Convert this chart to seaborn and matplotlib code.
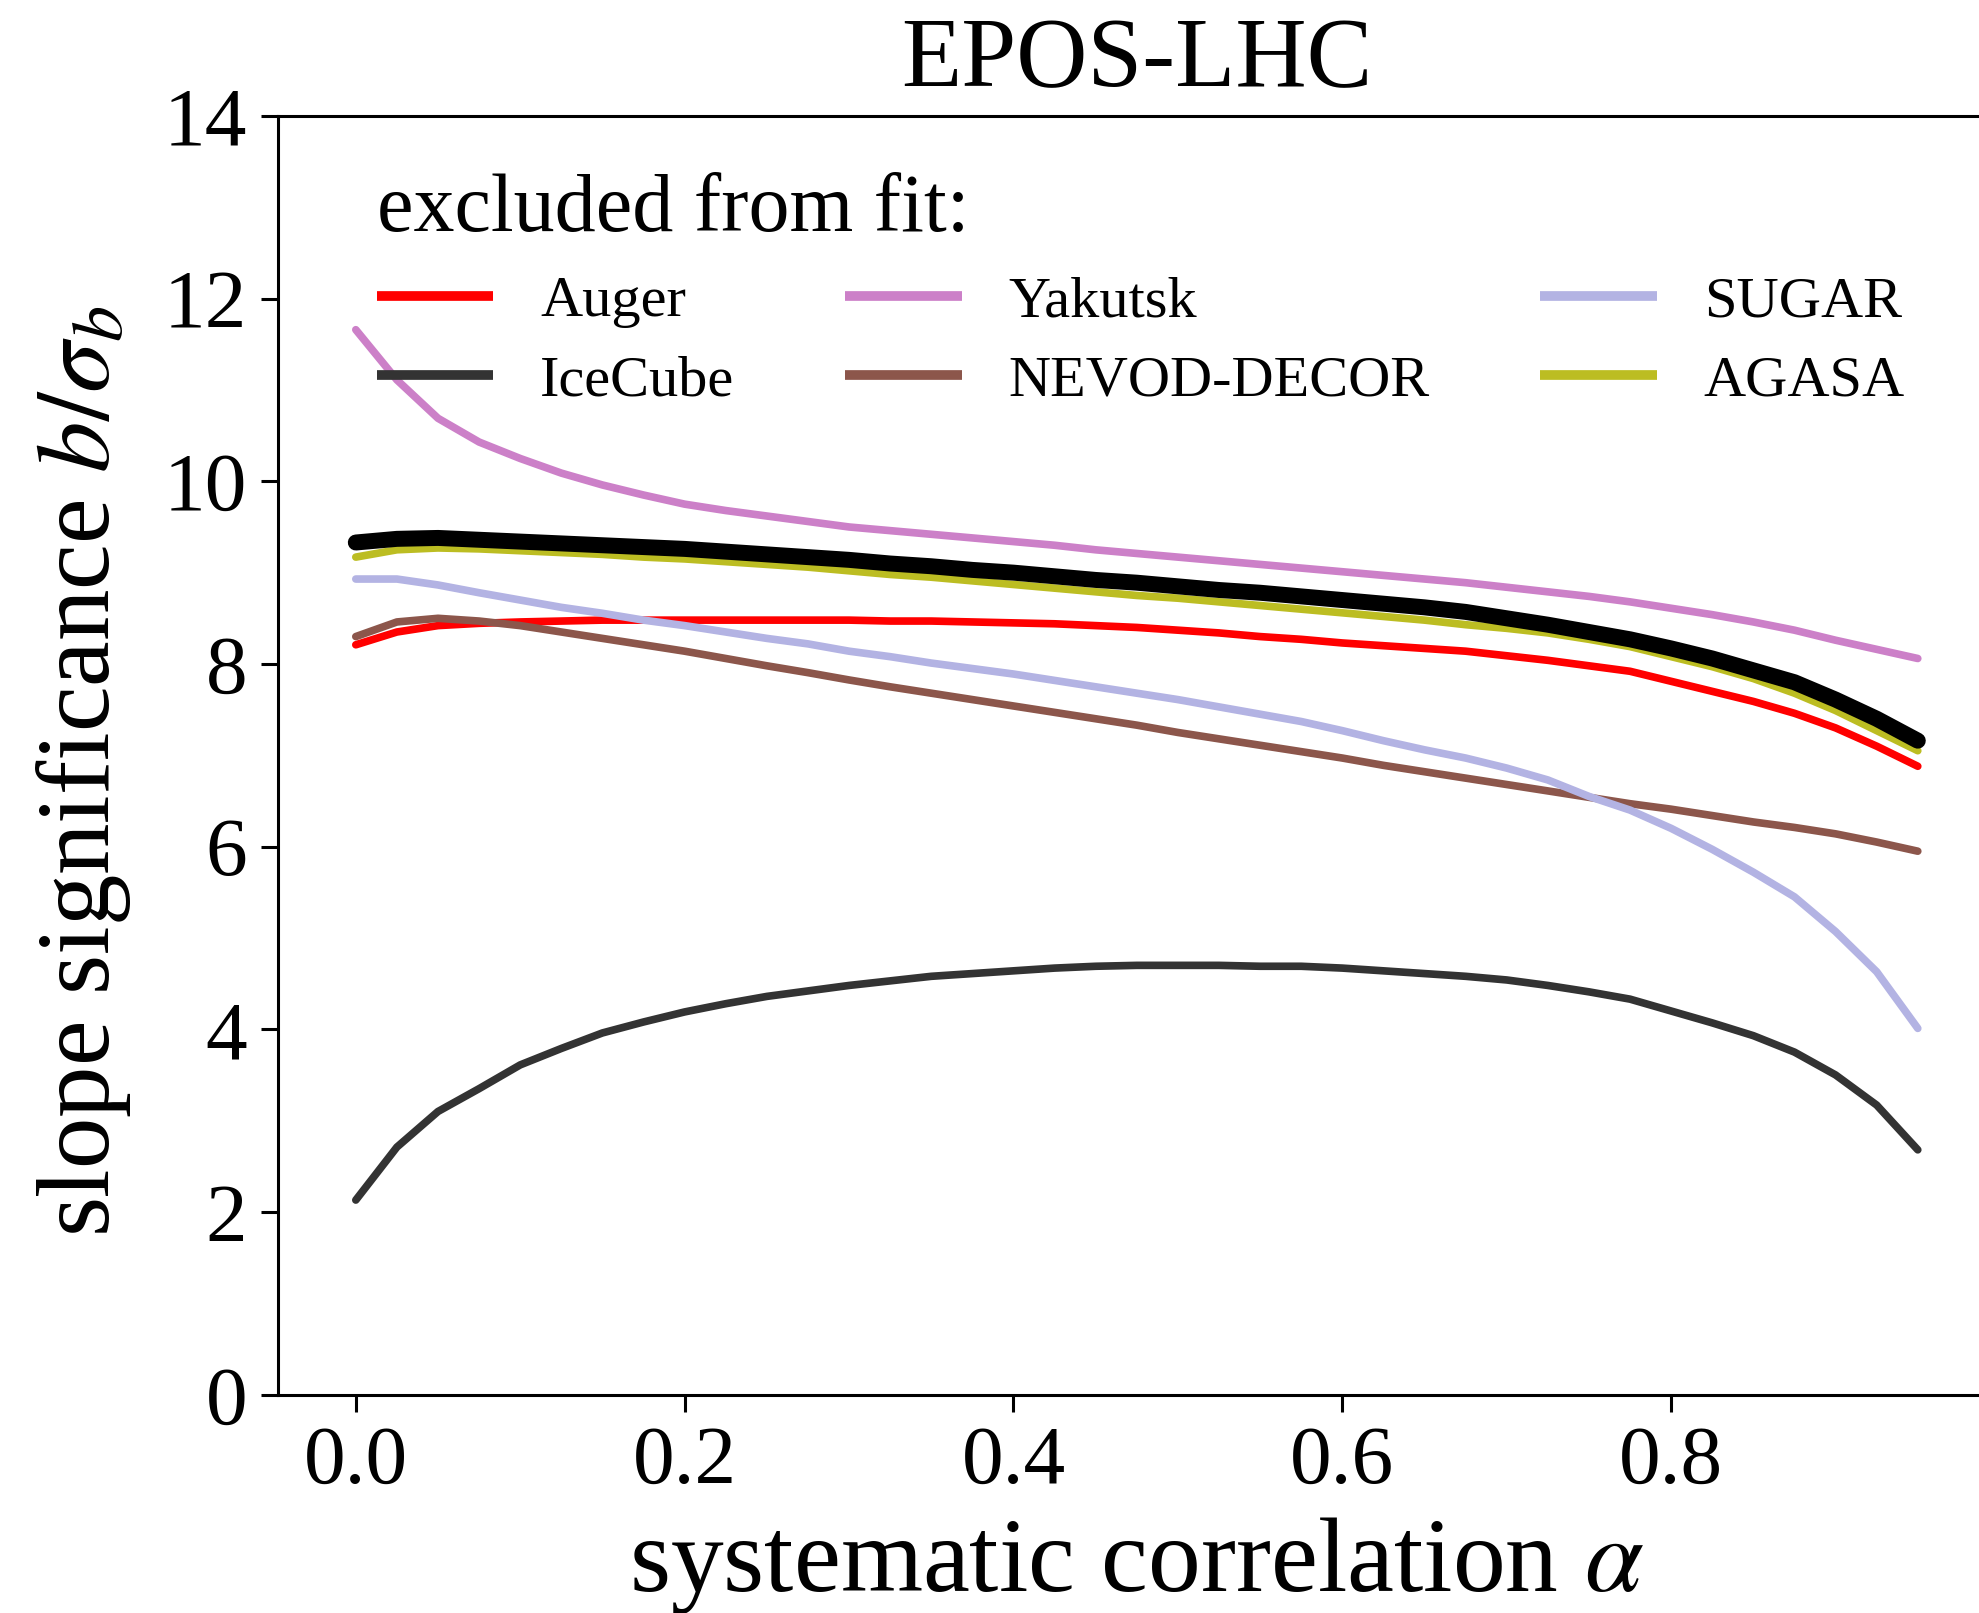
import numpy as np
import pandas as pd
import matplotlib
matplotlib.use("Agg")
import matplotlib.pyplot as plt
import seaborn as sns

# ---------------- data ----------------
alpha = [round(0.025 * k, 3) for k in range(39)]

all_data = [9.33, 9.37, 9.38, 9.36, 9.34, 9.32, 9.30, 9.28, 9.26, 9.23,
            9.20, 9.17, 9.14, 9.10, 9.07, 9.03, 9.00, 8.96, 8.92, 8.89,
            8.85, 8.81, 8.78, 8.74, 8.70, 8.66, 8.62, 8.57, 8.50, 8.43,
            8.35, 8.27, 8.17, 8.06, 7.93, 7.80, 7.61, 7.40, 7.16]

auger = [8.21, 8.35, 8.42, 8.445, 8.46, 8.47, 8.48, 8.48, 8.48, 8.48,
         8.48, 8.48, 8.48, 8.47, 8.47, 8.46, 8.45, 8.44, 8.42, 8.40,
         8.37, 8.34, 8.30, 8.27, 8.23, 8.20, 8.17, 8.14, 8.09, 8.04,
         7.98, 7.92, 7.81, 7.70, 7.59, 7.46, 7.30, 7.10, 6.88]

icecube = [2.13, 2.71, 3.10, 3.35, 3.61, 3.79, 3.96, 4.08, 4.19, 4.28,
           4.36, 4.42, 4.48, 4.53, 4.58, 4.61, 4.64, 4.67, 4.69, 4.70,
           4.70, 4.70, 4.69, 4.69, 4.67, 4.64, 4.61, 4.58, 4.54, 4.48,
           4.41, 4.33, 4.20, 4.07, 3.93, 3.75, 3.50, 3.17, 2.68]

yakutsk = [11.66, 11.11, 10.69, 10.43, 10.25, 10.09, 9.96, 9.85, 9.75, 9.68,
           9.62, 9.56, 9.50, 9.46, 9.42, 9.38, 9.34, 9.30, 9.25, 9.21,
           9.17, 9.13, 9.09, 9.05, 9.01, 8.97, 8.93, 8.89, 8.84, 8.79,
           8.74, 8.68, 8.61, 8.54, 8.46, 8.37, 8.26, 8.16, 8.06]

nevod = [8.30, 8.46, 8.50, 8.47, 8.42, 8.35, 8.28, 8.21, 8.14, 8.06,
         7.98, 7.905, 7.825, 7.75, 7.68, 7.61, 7.54, 7.47, 7.40, 7.33,
         7.25, 7.18, 7.11, 7.04, 6.97, 6.89, 6.82, 6.75, 6.68, 6.61,
         6.54, 6.47, 6.41, 6.34, 6.27, 6.21, 6.14, 6.05, 5.95]

sugar = [8.93, 8.93, 8.865, 8.78, 8.70, 8.62, 8.555, 8.48, 8.42, 8.35,
         8.28, 8.22, 8.14, 8.08, 8.01, 7.95, 7.89, 7.82, 7.75, 7.68,
         7.61, 7.53, 7.45, 7.37, 7.27, 7.16, 7.06, 6.97, 6.86, 6.73,
         6.55, 6.40, 6.20, 5.97, 5.72, 5.45, 5.07, 4.63, 4.01]

agasa = [9.17, 9.25, 9.27, 9.26, 9.24, 9.22, 9.20, 9.17, 9.15, 9.12,
         9.09, 9.06, 9.02, 8.98, 8.95, 8.91, 8.87, 8.83, 8.79, 8.75,
         8.72, 8.68, 8.64, 8.60, 8.56, 8.52, 8.48, 8.43, 8.39, 8.34,
         8.27, 8.19, 8.08, 7.97, 7.84, 7.68, 7.49, 7.27, 7.05]

names = ["Auger", "IceCube", "Yakutsk", "NEVOD-DECOR", "SUGAR", "AGASA"]
series = [auger, icecube, yakutsk, nevod, sugar, agasa]
colors = ["#ff0000", "#333333", "#cc80c8", "#8c564b", "#b3b3e3", "#bcbd22"]

xticks = [0.0, 0.2, 0.4, 0.6, 0.8]
yticks = [0, 2, 4, 6, 8, 10, 12, 14]

# ---------------- style ----------------
sns.set_style("ticks")
plt.rcParams["font.family"] = ["Liberation Serif", "DejaVu Serif"]
plt.rcParams["mathtext.fontset"] = "stix"
for key in ["text.color", "axes.labelcolor", "xtick.color", "ytick.color",
            "axes.edgecolor"]:
    plt.rcParams[key] = "black"

fig = plt.figure(figsize=(19.79, 16.13), dpi=100)
left_px, bottom_px, top_px = 277.7, 1394.6, 116.0
x0_px, xs_px = 357.0, 1643.0
xmin, xmax = -0.0475, 0.9975
right_px = x0_px + xmax * xs_px
ax = fig.add_axes([left_px / 1979, 1 - bottom_px / 1613,
                   (right_px - left_px) / 1979, (bottom_px - top_px) / 1613])

thin = 5.5
for name, vals, col in zip(names, series, colors):
    df = pd.DataFrame({"alpha": alpha, "val": vals})
    sns.lineplot(data=df, x="alpha", y="val", ax=ax, color=col,
                 linewidth=thin, label=name)
df_all = pd.DataFrame({"alpha": alpha, "val": all_data})
sns.lineplot(data=df_all, x="alpha", y="val", ax=ax, color="black",
             linewidth=11.5, legend=False)

ax.set_xlim(xmin, xmax)
ax.set_ylim(0, 14)
ax.set_xticks(xticks)
ax.set_xticklabels([f"{t:.1f}" for t in xticks])
ax.set_yticks(yticks)
ax.set_yticklabels([str(t) for t in yticks])
ax.tick_params(axis="both", labelsize=60, length=12, width=2.2, pad=10,
               direction="out", colors="black")
for s in ax.spines.values():
    s.set_linewidth(2.2)
    s.set_color("black")

ax.set_xlabel(r"systematic correlation $\alpha$", fontsize=76, labelpad=10)
ax.set_ylabel(r"slope significance $b/\sigma_b$", fontsize=74)
ax.yaxis.set_label_coords(-0.084, 0.488)
fig.text(1137 / 1979, 1 - 62 / 1613, "EPOS-LHC",
         fontsize=71, ha="center", va="center")

leg = ax.legend(loc="upper left", bbox_to_anchor=(0.027, 0.996), ncol=3,
                frameon=False, fontsize=42, title="excluded from fit:",
                title_fontsize=59, handlelength=2.0, handletextpad=0.8,
                columnspacing=1.9, labelspacing=0.45, alignment="left")
for h in leg.get_lines():
    h.set_linewidth(7.0)
    h.set_solid_capstyle("butt")

fig.savefig("out.png", dpi=100)
